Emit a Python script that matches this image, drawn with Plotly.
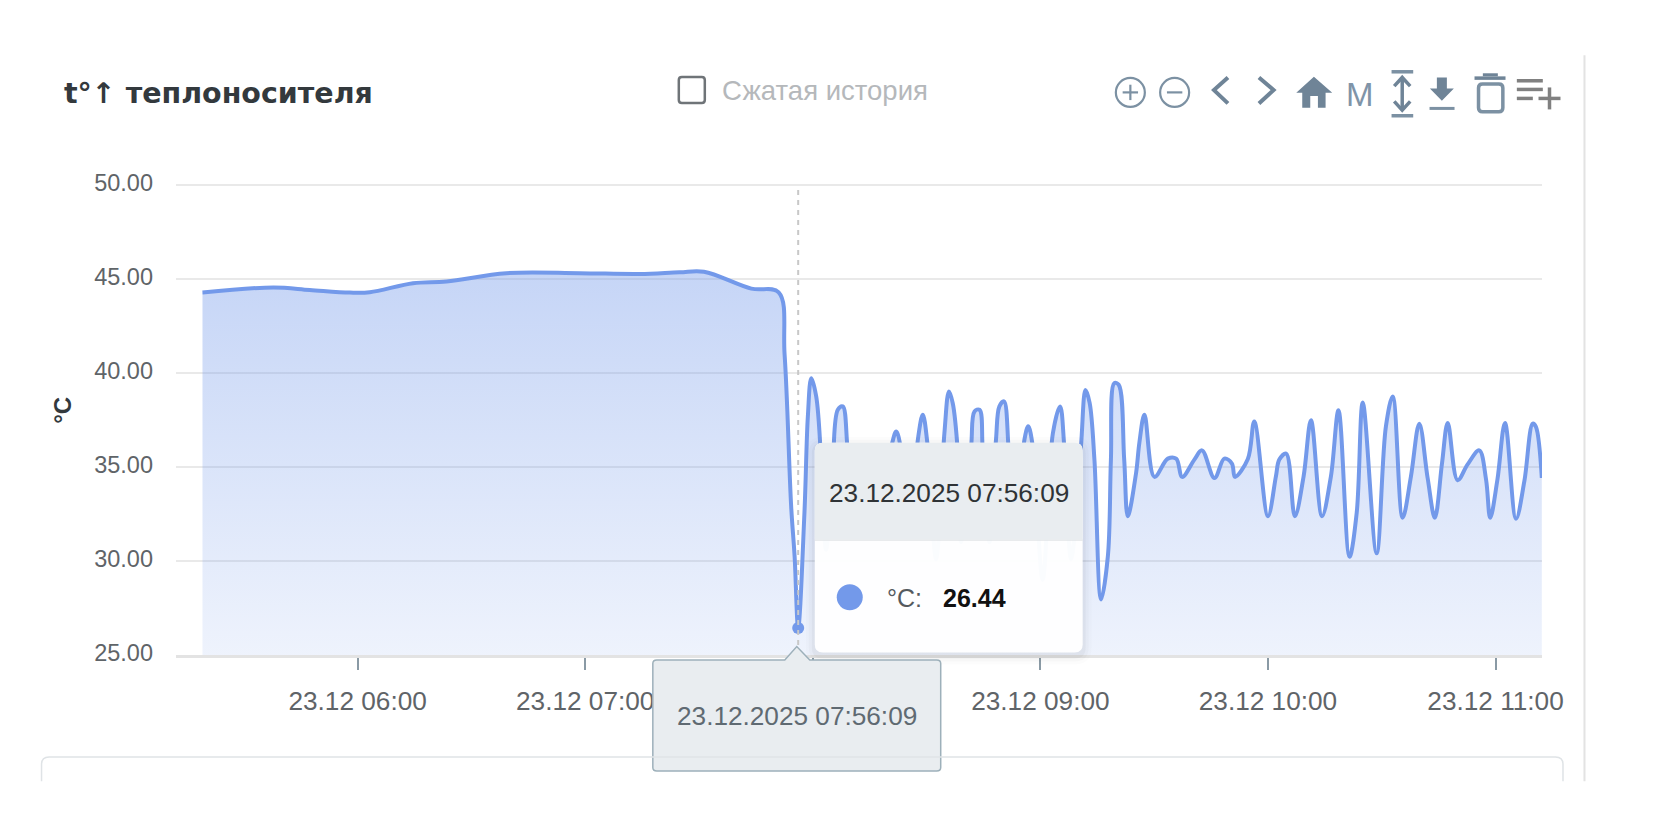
import plotly.graph_objects as go

DAY = "2025-12-23 "
times = """05:19:06 05:37:48 05:47:24 05:57:56 06:03:12 06:14:36 06:23:24 06:39:12 06:58:30 07:14:24 07:24:54 07:31:18 07:43:48 07:51:00 07:52:34 07:54:18 07:55:12 07:56:09 07:57:48 07:58:42 07:59:36 08:00:54 08:02:12 08:03:30 08:05:18 08:06:36 08:07:54 08:09:18 08:12:18 08:15:48 08:20:42 08:22:00 08:23:18 08:25:30 08:27:42 08:29:00 08:30:18 08:32:30 08:34:42 08:35:54 08:36:54 08:38:12 08:39:06 08:41:45 08:42:38 08:43:57 08:44:48 08:46:36 08:48:18 08:49:12 08:50:24 08:51:42 08:53:36 08:55:48 08:56:48 08:58:00 09:00:36 09:03:18 09:05:12 09:06:18 09:08:06 09:10:42 09:11:54 09:13:00 09:14:15 09:16:00 09:17:48 09:18:36 09:19:30 09:20:39 09:22:06 09:23:03 09:25:14 09:26:06 09:27:26 09:30:04 09:33:36 09:35:48 09:37:24 09:40:36 09:42:36 09:45:54 09:48:30 09:50:30 09:51:18 09:54:42 09:56:24 10:00:00 10:02:06 10:03:00 10:04:48 10:07:06 10:09:24 10:11:21 10:14:15 10:16:36 10:18:36 10:21:30 10:23:24 10:25:00 10:28:39 10:31:06 10:32:54 10:35:30 10:37:42 10:39:54 10:42:06 10:44:00 10:45:54 10:47:24 10:50:00 10:52:36 10:55:42 10:57:30 10:58:36 11:00:30 11:02:30 11:05:24 11:07:36 11:09:48 11:10:36 11:12:12""".split()
temps = [44.29, 44.56, 44.43, 44.29, 44.31, 44.79, 44.88, 45.32, 45.32, 45.28, 45.37, 45.40, 44.50, 44.30, 41.0, 32.9, 30.27, 26.44, 32.57, 37.7, 39.73, 38.76, 35.4, 30.6, 35.4, 38.05, 38.23, 35.75, 32.2, 31.9, 36.1, 36.9, 35.9, 31.5, 36.46, 37.79, 36.1, 30.09, 36.81, 39.03, 38.4, 35.9, 31.0, 36.1, 37.96, 38.05, 35.9, 31.0, 36.46, 38.23, 38.5, 35.75, 31.5, 36.46, 37.17, 36.1, 29.0, 36.8, 38.23, 36.1, 30.1, 36.1, 39.1, 38.4, 35.4, 27.96, 30.27, 35.4, 39.47, 39.38, 35.4, 32.39, 34.69, 36.3, 37.79, 34.48, 35.45, 35.45, 34.48, 35.40, 35.89, 34.42, 35.45, 35.19, 34.48, 35.43, 37.43, 32.39, 34.51, 35.40, 35.72, 32.39, 34.51, 37.49, 32.39, 34.51, 38.02, 30.23, 32.57, 38.44, 30.41, 37.17, 38.76, 32.30, 34.51, 37.31, 34.42, 32.30, 35.22, 37.35, 34.30, 35.13, 35.89, 34.34, 32.30, 34.34, 37.35, 32.25, 34.25, 37.31, 37.17, 34.42]

x_tick_times = ["06:00", "07:00", "08:00", "09:00", "10:00", "11:00"]
x_tick_labels = ["23.12 06:00", "23.12 07:00", "23.12 08:00", "23.12 09:00", "23.12 10:00", "23.12 11:00"]
y_ticks = [25, 30, 35, 40, 45, 50]
y_tick_labels = ["25.00", "30.00", "35.00", "40.00", "45.00", "50.00"]
hover_time = "07:56:09"
hover_value = 26.44
hover_label = "23.12.2025 07:56:09"
title_text = "t°↑ теплоносителя"
checkbox_text = "Сжатая история"
unit = "°C"

W, H = 1660, 839
L, R, T, B = 176, 1542.5, 183, 655.5
FONT = "Liberation Sans"
LINE = "#7399ea"

def X(px): return (px - L) / (R - L)
def Y(py): return (B - py) / (B - T)
def P(px, py): return f"{X(px):.5f},{Y(py):.5f}"

def poly(points, close=True):
    d = "M" + " L".join(P(a, b) for a, b in points)
    return d + (" Z" if close else "")

def rrect(x0, y0, x1, y1, r=6, top=True, bottom=True):
    rt = r if top else 0
    rb = r if bottom else 0
    return (f"M{P(x0 + rt, y0)} L{P(x1 - rt, y0)} Q{P(x1, y0)} {P(x1, y0 + rt)} "
            f"L{P(x1, y1 - rb)} Q{P(x1, y1)} {P(x1 - rb, y1)} "
            f"L{P(x0 + rb, y1)} Q{P(x0, y1)} {P(x0, y1 - rb)} "
            f"L{P(x0, y0 + rt)} Q{P(x0, y0)} {P(x0 + rt, y0)} Z")

shapes = []
def add_path(d, fill=None, color=None, width=0, layer="above"):
    shapes.append(dict(type="path", xref="paper", yref="paper", path=d, layer=layer,
                       fillcolor=fill or "rgba(0,0,0,0)",
                       line=dict(color=color or "rgba(0,0,0,0)", width=width)))

def add_circle(cx, cy, r, fill=None, color=None, width=0):
    shapes.append(dict(type="circle", xref="paper", yref="paper", layer="above",
                       x0=X(cx - r), x1=X(cx + r), y0=Y(cy + r), y1=Y(cy - r),
                       fillcolor=fill or "rgba(0,0,0,0)",
                       line=dict(color=color or "rgba(0,0,0,0)", width=width)))

def Z(zx, zy):  # toolbar crop coordinates to pixels
    return (1100 + zx / 3, 60 + zy / 3)

def zline(pts, color, width, fill=None, close=False):
    add_path(poly([Z(*p) for p in pts], close), fill=fill, color=color, width=width)

# crosshair
shapes.append(dict(type="line", xref="x", yref="y", x0=DAY + hover_time, x1=DAY + hover_time, y0=25, y1=50,
                   layer="above", line=dict(color="#c8c8c8", width=2, dash="5px,5px")))

# tooltip shadow
for grow, alpha in [(9, 0.012), (6, 0.02), (3, 0.03)]:
    add_path(rrect(815 - grow, 443 - grow + 3, 1083 + grow, 653 + grow + 3, 8 + grow), fill=f"rgba(0,0,0,{alpha})")
# tooltip card
add_path(rrect(815, 443, 1083, 653, 8), fill="rgba(255,255,255,0.97)")
add_path(rrect(815, 443, 1083, 540, 8, bottom=False), fill="#e9edf0")
add_path(poly([(815, 540.5), (1083, 540.5)], False), color="#dcdfe2", width=1)
add_circle(850, 597.7, 13, fill=LINE)

# pointer label
add_path(f"M{P(653, 664)} Q{P(653, 660.5)} {P(657, 660.5)} L{P(785, 660.5)} L{P(797, 647)} L{P(810, 660.5)} "
         f"L{P(937, 660.5)} Q{P(941, 660.5)} {P(941, 664)} L{P(941, 768)} Q{P(941, 771.5)} {P(937, 771.5)} "
         f"L{P(657, 771.5)} Q{P(653, 771.5)} {P(653, 768)} Z", fill="#e9edf0", color="#9db0ba", width=1.5)

# lower card and right divider
add_path(f"M{P(41.5, 782)} L{P(41.5, 765)} Q{P(41.5, 757.5)} {P(49, 757.5)} L{P(1556, 757.5)} "
         f"Q{P(1563.5, 757.5)} {P(1563.5, 765)} L{P(1563.5, 782)}", color="#dfe3e6", width=1.5)
add_path(poly([(1585, 55), (1585, 782)], False), color="#e3e3e3", width=2)

# checkbox
add_path(rrect(679, 77, 705, 103, 3), color="#6f7478", width=2.5)

# toolbar icons
ICON = "#6f8497"
add_circle(1130.7, 92.3, 14.5, color="#7c91a3", width=2.2)
add_path(poly([(1123, 92.3), (1138.4, 92.3)], False), color="#7c91a3", width=2.2)
add_path(poly([(1130.7, 84.6), (1130.7, 100)], False), color="#7c91a3", width=2.2)
add_circle(1175, 92.3, 14.5, color="#7c91a3", width=2.2)
add_path(poly([(1167.3, 92.3), (1182.7, 92.3)], False), color="#7c91a3", width=2.2)
zline([(385, 52), (343, 90), (385, 130)], ICON, 4)
zline([(478, 52), (522, 90), (478, 130)], ICON, 4)
zline([(643, 50), (698, 98), (678, 98), (678, 143), (655, 143), (655, 108), (632, 108), (632, 143), (608, 143), (608, 98), (590, 98)], None, 0, fill=ICON, close=True)
zline([(876, 35), (941, 35)], "#7c91a3", 3.5)
zline([(876, 167), (941, 167)], "#7c91a3", 3.5)
zline([(908, 55), (908, 148)], ICON, 3.5)
zline([(884, 78), (908, 52), (932, 78)], ICON, 3.5)
zline([(884, 124), (908, 150), (932, 124)], ICON, 3.5)
zline([(1012, 52), (1042, 52), (1042, 85), (1063, 85), (1027, 122), (991, 85), (1012, 85)], None, 0, fill=ICON, close=True)
zline([(990, 145), (1065, 145)], "#7c91a3", 3)
zline([(1125, 54), (1218, 54)], ICON, 3.5)
zline([(1150, 44), (1195, 44)], ICON, 3)
add_path(rrect(Z(1137, 0)[0], Z(0, 72)[1], Z(1210, 0)[0], Z(0, 155)[1], 4), color="#7c91a3", width=3.5)
for zy, end in [(62, 1330), (88, 1330), (115, 1300)]:
    zline([(1252, zy), (end, zy)], "#808080", 3.5)
zline([(1317, 115), (1383, 115)], "#808080", 3.5)
zline([(1350, 82), (1350, 148)], "#808080", 3.5)

def label(text, px, py, size, color, xanchor="center", bold=False, angle=0, family=FONT):
    return dict(text=f"<b>{text}</b>" if bold else text, xref="paper", yref="paper", x=X(px), y=Y(py),
                xanchor=xanchor, yanchor="middle", showarrow=False, textangle=angle,
                font=dict(family=family, size=size, color=color))

annotations = [
    label(title_text, 62, 93, 28.5, "#33393d", "left", True, family="DejaVu Sans"),
    label(checkbox_text, 720, 90, 27.5, "#b5b8bb", "left"),
    label("M", 1360.5, 94.5, 33, "#8094a8"),
    label(unit, 63, 411, 24, "#33393d", bold=True, angle=-90),
    label(hover_label, 949, 493, 26.2, "#2f3336"),
    label(unit + ":", 885, 598, 25, "#555a5e", "left"),
    label(f"{hover_value:.2f}", 941, 598, 25, "#111111", "left", True),
    label(hover_label, 797, 717, 26.2, "#5f6a72"),
]

fig = go.Figure()
fig.add_trace(go.Scatter(
    x=[DAY + t for t in times], y=temps, mode="lines",
    line=dict(color=LINE, width=4, shape="spline", smoothing=1.0),
    fill="tozeroy",
    fillgradient=dict(type="vertical", start=25, stop=45.4,
                      colorscale=[[0, "rgba(115,153,234,0.12)"], [1, "rgba(115,153,234,0.41)"]]),
    showlegend=False, hoverinfo="skip",
))
fig.add_trace(go.Scatter(
    x=[DAY + hover_time], y=[hover_value], mode="markers",
    marker=dict(color=LINE, size=12), showlegend=False, hoverinfo="skip", cliponaxis=False,
))

fig.update_layout(
    width=W, height=H, autosize=False,
    margin=dict(l=L, r=W - R, t=T, b=H - B, pad=0),
    paper_bgcolor="#ffffff", plot_bgcolor="#ffffff",
    font=dict(family=FONT),
    shapes=shapes, annotations=annotations,
    xaxis=dict(
        type="date", range=[DAY + "05:12:07", DAY + "11:12:15"],
        tickmode="array", tickvals=[DAY + t for t in x_tick_times], ticktext=x_tick_labels,
        showgrid=False, zeroline=False, showline=True, linecolor="#e3e3e3", linewidth=3,
        ticks="outside", ticklen=12, tickwidth=2, tickcolor="#8a9aa5",
        ticklabelstandoff=9, tickfont=dict(family=FONT, size=26.2, color="#5f6468"),
    ),
    yaxis=dict(
        range=[25, 50.12], tickmode="array", tickvals=y_ticks, ticktext=y_tick_labels,
        showgrid=True, gridcolor="#e9e9e9", gridwidth=2, zeroline=False, showline=False,
        ticks="", ticklabelstandoff=22, ticklabelshift=-2,
        tickfont=dict(family=FONT, size=23.5, color="#5f6468"),
    ),
)

fig.write_html("out.html", config=dict(displayModeBar=False, responsive=False),
               post_script="document.body.style.margin='0';document.body.style.background='#fff';")
